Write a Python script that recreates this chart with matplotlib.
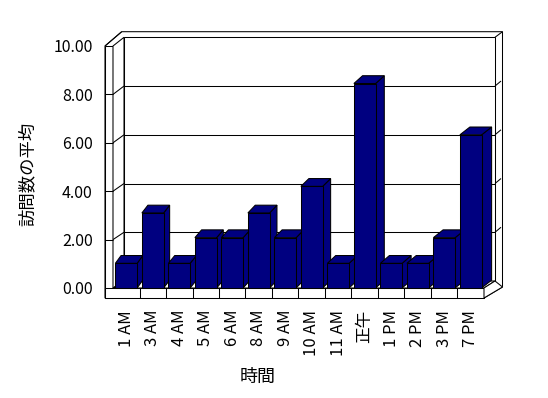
import matplotlib
matplotlib.use("Agg")
import matplotlib.pyplot as plt
from matplotlib.patches import Polygon

plt.rcParams['font.family'] = ['Noto Sans CJK JP', 'DejaVu Sans']

# データ
hours = ["1 AM", "3 AM", "4 AM", "5 AM", "6 AM", "8 AM", "9 AM", "10 AM",
         "11 AM", "正午", "1 PM", "2 PM", "3 PM", "7 PM"]
visits = [1.02, 3.1, 1.02, 2.08, 2.08, 3.1, 2.08, 4.2,
          1.02, 8.45, 1.02, 1.02, 2.08, 6.33]
yticks = [0, 2, 4, 6, 8, 10]
ytick_labels = ["0.00", "2.00", "4.00", "6.00", "8.00", "10.00"]

W, H = 548, 398
fig = plt.figure(figsize=(W / 100, H / 100), dpi=100)

# front plane of the 3d box, in pixels
fx0, fx1 = 113, 484
fy0, fy1 = 288, 46
ax = fig.add_axes([fx0 / W, 1 - fy0 / H, (fx1 - fx0) / W, (fy0 - fy1) / H])
n = len(hours)
ax.set_xlim(-0.5, n - 0.5)
ax.set_ylim(0, 10)
for s in ax.spines.values():
    s.set_visible(False)

pxx = (fx1 - fx0) / n      # pixels per category
pxy = (fy0 - fy1) / 10     # pixels per unit
LW = 0.75


def P(px, py):
    # pixel (from top-left) -> data coords of ax
    return ((px - fx0) / pxx - 0.5, (fy0 - py) / pxy)


def poly(pts, fc="white", z=1):
    ax.add_patch(Polygon([P(*p) for p in pts], closed=True, facecolor=fc,
                         edgecolor="black", lw=LW, zorder=z, clip_on=False))


def line(p1, p2, z=1.5):
    a, b = P(*p1), P(*p2)
    ax.plot([a[0], b[0]], [a[1], b[1]], color="black", lw=LW, zorder=z,
            clip_on=False, solid_capstyle="butt")


# walls and floor
bx0, bx1 = 124, 495
by_top, by_bot = 37.3, 281
poly([(121.7, 31.7), (502.5, 31.7), (502.5, 287), (484, 298), (105, 298), (105, 46)], z=0.5)
poly([(bx0, by_top), (bx1, by_top), (bx1, by_bot), (bx0, by_bot)], z=0.6)
poly([(105, 46), (113, 46), (113, 298), (105, 298)], z=0.7)
poly([(113, 46), (bx0, by_top), (bx0, by_bot), (113, fy0)], z=0.7)
poly([(113, fy0), (fx1, fy0), (bx1, by_bot), (bx0, by_bot)], z=0.7)
poly([(105, fy0), (fx1, fy0), (fx1, 298), (105, 298)], z=0.7)
poly([(fx1, fy0), (bx1, by_bot), (502.5, 287), (fx1, 298)], z=0.7)
line((105, 46), (121.7, 31.7))
line((bx1, by_top), (502.5, 31.7))

# gridlines on back wall + ticks
back_scale = (by_bot - by_top) / 10
for v in yticks[1:-1]:
    yf = fy0 - v * pxy
    yb = by_bot - v * back_scale
    line((bx0, yb), (bx1, yb), z=0.8)
    line((113, yf), (bx0, yb), z=0.8)
    line((105, yf), (113, yf), z=0.8)
    line((bx1, yb), (501, yb - 5), z=0.8)
for k in range(1, n):
    xk = fx0 + k * pxx
    line((xk, fy0), (xk, 298), z=0.8)

# bars
bw = 0.82
navy = "#000080"
dy = 7.8 / pxy
for i, v in enumerate(visits):
    dx = (5.7 + 4.3 * i / (n - 1)) / pxx
    l, r = i - bw / 2, i + bw / 2
    ax.add_patch(Polygon([(r, 0), (r + dx, dy), (r + dx, v + dy), (r, v)],
                         facecolor=navy, edgecolor="black", lw=LW,
                         zorder=2 + i, clip_on=False))
    ax.add_patch(Polygon([(l, v), (r, v), (r + dx, v + dy), (l + dx, v + dy)],
                         facecolor=navy, edgecolor="black", lw=LW,
                         zorder=2 + i, clip_on=False))
    ax.bar(i, v, width=bw, color=navy, edgecolor="black", lw=LW,
           zorder=2.5 + i, clip_on=False)

ax.set_yticks(yticks)
ax.set_yticklabels(ytick_labels, fontsize=11.5)
ax.set_xticks(range(n))
ax.set_xticklabels(hours, rotation=90, fontsize=12)
ax.tick_params(axis="y", length=0, pad=14.6)
ax.tick_params(axis="x", length=0, pad=15.8)

ax.set_ylabel("訪問数の平均", fontsize=12.5)
ax.yaxis.set_label_coords((28 - fx0) / (fx1 - fx0), (fy0 - 174) / (fy0 - fy1))
ax.set_xlabel("時間", fontsize=13)
ax.xaxis.set_label_coords((258 - fx0) / (fx1 - fx0), (fy0 - 376.7) / (fy0 - fy1))
ax.xaxis.label.set_va("center")
ax.yaxis.label.set_va("center")

fig.savefig("out.png", dpi=100)
